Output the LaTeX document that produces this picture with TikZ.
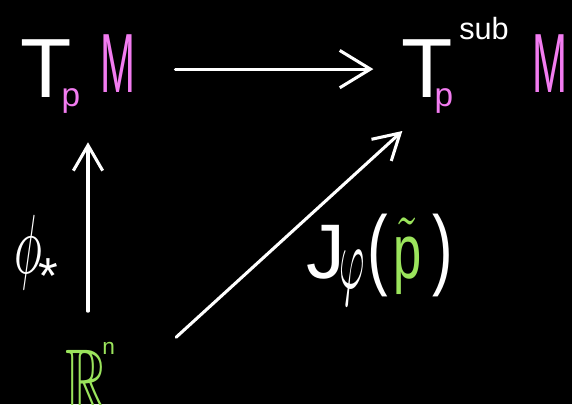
\documentclass[tikz,border=0pt]{standalone}
\usepackage{fontspec}
\usepackage{amssymb}
\setmainfont{Liberation Sans}
\usetikzlibrary{arrows.meta,calc}
\definecolor{mag}{HTML}{F27CF0}
\definecolor{grn}{HTML}{9BE45C}
\newcommand\mth[1]{{\fontsize{10}{12}\selectfont#1}}
\tikzset{
  glyph/.style={inner sep=0pt, outer sep=0pt, text=white, font=\fontsize{63}{70}\selectfont},
  subglyph/.style={inner sep=0pt, outer sep=0pt, text=mag, font=\fontsize{25}{30}\selectfont},
  arr/.style={draw=white, line width=2.3pt, line cap=round,
    -{Straight Barb[length=19pt, width=22pt, line width=2.3pt]}},
}
\begin{document}
\begin{tikzpicture}[x=0.75pt,y=-0.75pt]
\fill[black] (0,0) rectangle (572,404);
\useasboundingbox (0,0) rectangle (572,404);
% left: T_p M
\node[glyph, anchor=base] (T1) at (46,97) {T};
\node[subglyph, anchor=base] (p1) at (71,106) {p};
\node[glyph, text=mag, anchor=base] (M1) at (118,92) {\scalebox{0.5}[1]{M}};
% right: T_p^sub M
\node[glyph, anchor=base] (T2) at (427,97) {T};
\node[inner sep=0pt, text=white, font=\fontsize{23}{26}\selectfont, anchor=base west] (sub) at (459,39) {sub};
\node[subglyph, anchor=base] (p2) at (444,106) {p};
\node[glyph, text=mag, anchor=base] (M2) at (550,92) {\scalebox{0.5}[1]{M}};
% bottom: R^n
\node[inner sep=0pt, text=grn, anchor=base west] (R) at (65,412)
  {\mth{\scalebox{4.4}[6.8]{$\mathbb{R}$}}\kern-4pt\raisebox{43pt}{\fontsize{17}{20}\selectfont n}};
% label phi_*
\node[inner sep=0pt, text=white, anchor=base west] (phi) at (14,273)
  {\mth{\scalebox{3.5}[6.3]{$\phi$}}\kern-3pt\raisebox{-15pt}{\fontsize{38}{40}\selectfont *}};
% label J_phi(p~)
\node[inner sep=0pt, text=white, anchor=base west, font=\fontsize{58}{64}\selectfont] (J) at (306,278)
  {J\kern-4pt\raisebox{-7.5pt}{\mth{\scalebox{2.9}[6.6]{$\varphi$}}}\kern2pt\scalebox{0.8}[1.15]{(}\kern4pt\textcolor{grn}{\mth{\scalebox{3.8}[5.8]{$\tilde{\mathrm{p}}$}}}\kern8pt\scalebox{0.8}[1.15]{)}};
% arrows
\coordinate (h1) at ($(M1.east)+(40,6)$);
\draw[arr, -{Straight Barb[length=23pt, width=28pt, line width=2.3pt]}, shorten >=21pt] (h1) -- (h1 -| T2.west);
\coordinate (v1) at ($(R.north west)+(23,-31)$);
\draw[arr, shorten >=22pt] (v1) -- (v1 |- p1.south);
\coordinate (d1) at ($(R.north east)+(61,-5)$);
\coordinate (d2) at ($(T2.south west)+(1,34)$);
\draw[arr] (d1) -- (d2);
\end{tikzpicture}
\end{document}
